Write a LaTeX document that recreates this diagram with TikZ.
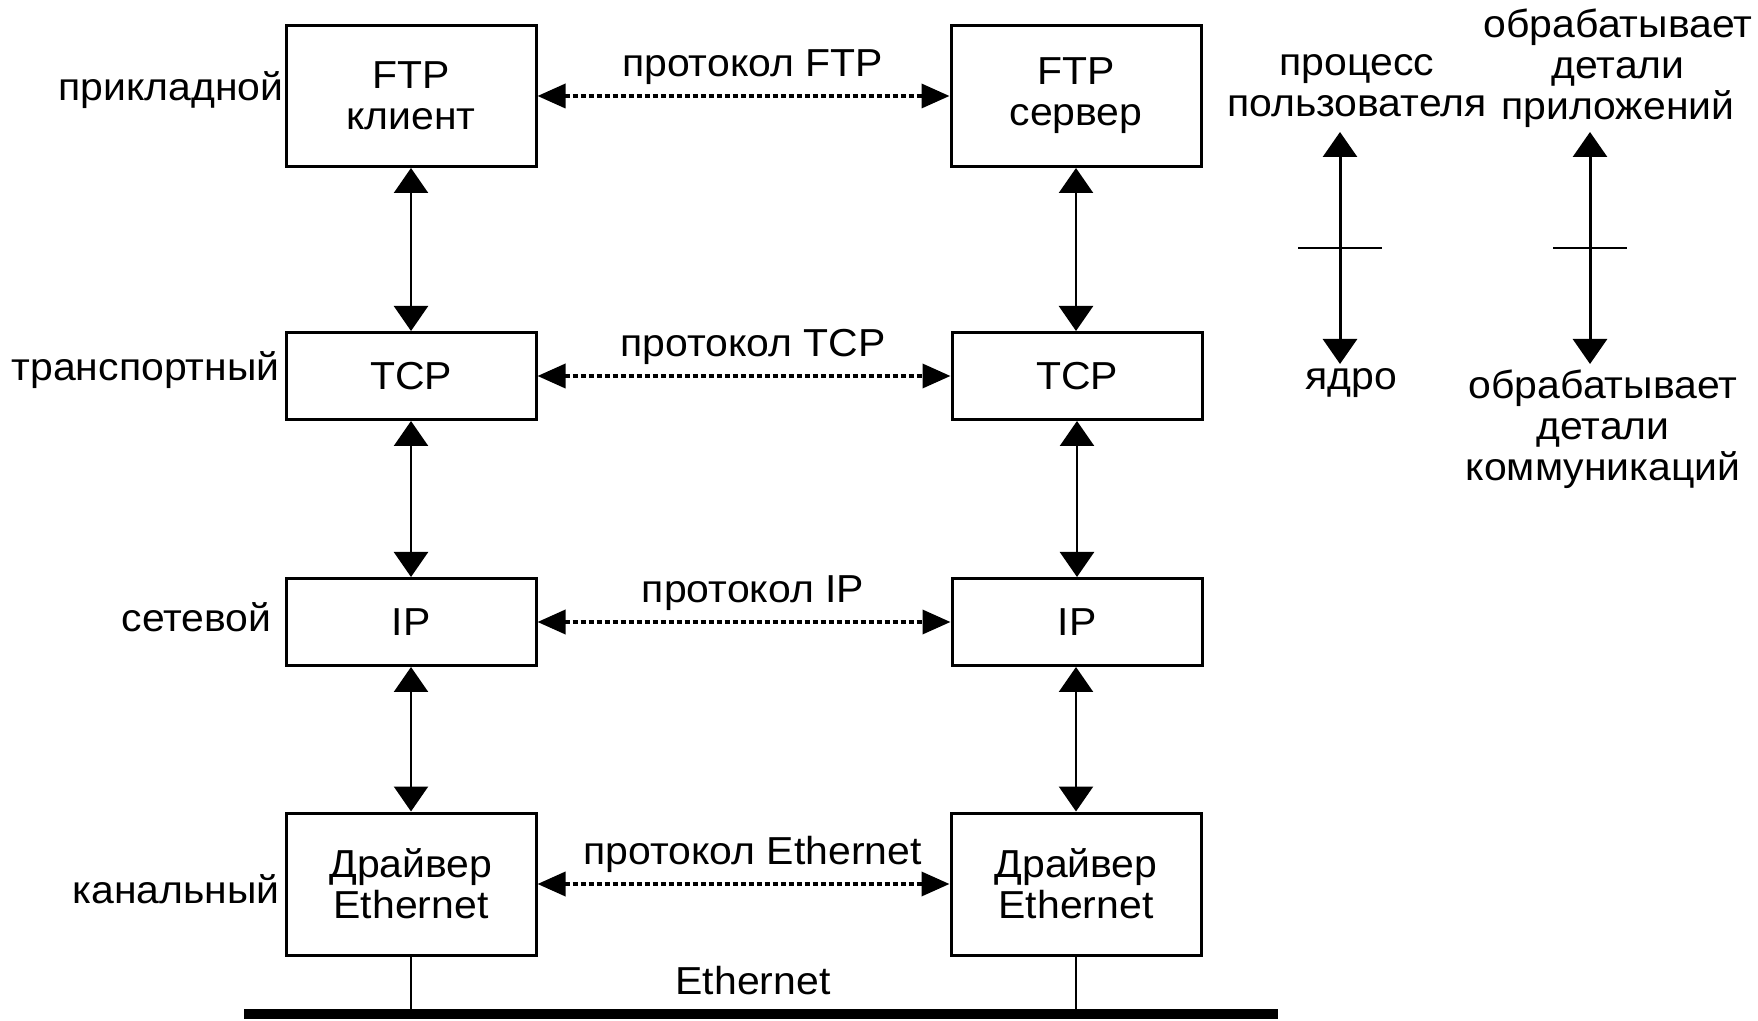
\documentclass[tikz,border=0pt]{standalone}
\usepackage{fontspec}
\setmainfont{Liberation Sans}[FakeStretch=1.05]
\usetikzlibrary{arrows.meta}
\usetikzlibrary{calc}
\tikzstyle{layerbox}=[draw,line width=1.5pt,minimum width=125pt,align=center,inner sep=0pt]
\tikzstyle{updown}=[line width=1.2pt,{Triangle[length=12.5pt,width=17pt]}-{Triangle[length=12.5pt,width=17pt]}]
\tikzstyle{peer}=[line width=1.8pt,dash pattern=on 2.5pt off 1.5pt,{Triangle[length=14pt,width=12pt]}-{Triangle[length=14pt,width=12pt]}]
\tikzstyle{layername}=[anchor=east,inner sep=0pt]
\tikzstyle{peerlabel}=[midway,above=5pt,xshift=4.5pt,inner sep=0pt]
\newcommand{\splitarrow}[3]{% Syntax: {name} {x} {half tick} ; arrow from y=132 to y=364 with a tick in the middle
\coordinate (#1top) at (#2,132);
\coordinate (#1bot) at (#2,364);
\coordinate (#1mid) at ($(#1top)!0.5!(#1bot)$);
\draw[updown,line width=1.5pt] (#1top) -- (#1bot);
\draw[line width=1pt] ($(#1mid)+(-#3,0)$) -- ($(#1mid)+(#3,0)$);
}

\begin{document}
\begin{tikzpicture}[x=0.5pt,y=-0.5pt,font=\fontsize{19.5}{20.5}\selectfont]
  \useasboundingbox (0,0) rectangle (1758,1021);
  % client side
  \node[layerbox,minimum height=70.5pt] (cftp) at (411,96) {FTP\\клиент};
  \node[layerbox,minimum height=43.5pt] (ctcp) at (411,376) {TCP};
  \node[layerbox,minimum height=43.5pt] (cip) at (411,622) {IP};
  \node[layerbox,minimum height=71pt] (cdrv) at (411,884) {Драйвер\\Ethernet};
  % server side
  \node[layerbox,minimum height=70.5pt] (sftp) at (1076,96) {FTP\\сервер};
  \node[layerbox,minimum height=43.5pt] (stcp) at (1077,376) {TCP};
  \node[layerbox,minimum height=43.5pt] (sip) at (1077,622) {IP};
  \node[layerbox,minimum height=71pt] (sdrv) at (1076,884) {Драйвер\\Ethernet};
  % layer names
  \node[layername] (lapp) at (284,90) {прикладной};
  \node[layername] (ltrans) at (280,370) {транспортный};
  \node[layername] (lnet) at (272,617) {сетевой};
  \node[layername] (llink) at (280,889) {канальный};
  % up and down the stacks
  \draw[updown] (cftp) -- (ctcp);
  \draw[updown] (ctcp) -- (cip);
  \draw[updown] (cip) -- (cdrv);
  \draw[updown] (sftp) -- (sftp |- stcp.north);
  \draw[updown] (stcp) -- (sip);
  \draw[updown] (sip.south -| sdrv) -- (sdrv);
  % peer protocols
  \draw[peer] (cftp) -- (sftp) node[peerlabel] {протокол FTP};
  \draw[peer] (ctcp) -- (stcp) node[peerlabel] {протокол TCP};
  \draw[peer] (cip) -- (sip) node[peerlabel] {протокол IP};
  \draw[peer] (cdrv) -- (sdrv) node[peerlabel] {протокол Ethernet};
  % the cable
  \coordinate (busL) at (244,1014);
  \coordinate (busR) at (1278,1014);
  \draw[line width=5pt] (busL) -- (busR);
  \draw[line width=1pt] (cdrv) -- (cdrv |- busL);
  \draw[line width=1pt] (sdrv) -- (sdrv |- busL);
  \node[anchor=base] (ethlbl) at (753,994) {Ethernet};
  % user / kernel
  \node[align=center,inner sep=0pt] (uproc) at (1357,86) {процесс\\пользователя};
  \node[inner sep=0pt] (kern) at (1351,383) {ядро};
  \splitarrow{uk}{1340}{42}
  \node[align=center,inner sep=0pt] (appdet) at (1618,68) {обрабатывает\\детали\\приложений};
  \node[align=center,inner sep=0pt] (comdet) at (1603,429) {обрабатывает\\детали\\коммуникаций};
  \splitarrow{ac}{1590}{37}
\end{tikzpicture}
\end{document}
